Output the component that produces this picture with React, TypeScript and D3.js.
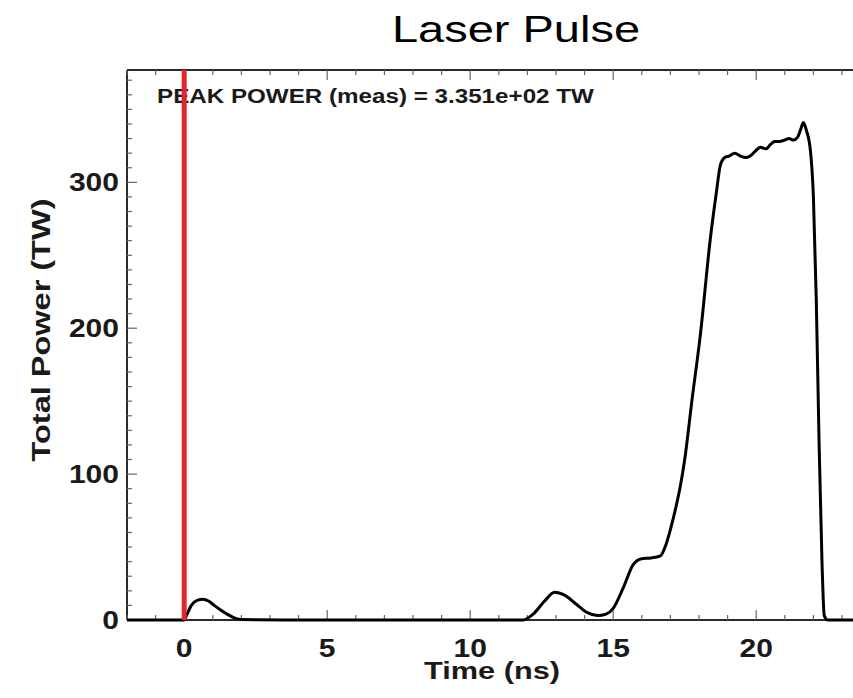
import React from "react";
import * as d3 from "d3";

// pulse shape
const timeNs = [
  -2, 0, 0.1, 0.25, 0.45, 0.65, 0.85, 1.05, 1.3, 1.5, 1.75, 2.0, 4, 8, 11.85,
  12.2, 12.6, 12.95, 13.3, 13.7, 14.1, 14.45, 14.75, 15.0, 15.35, 15.7, 16.0,
  16.3, 16.65, 16.85, 17.0, 17.2, 17.35, 17.5, 17.75, 18.05, 18.4, 18.6, 18.75,
  18.9, 19.05, 19.25, 19.45, 19.65, 19.85, 20.0, 20.15, 20.35, 20.5, 20.65,
  20.8, 21.0, 21.15, 21.3, 21.45, 21.55, 21.65, 21.75, 21.9, 22.0, 22.1, 22.2,
  22.3, 22.38, 22.5, 25,
];
const powerTW = [
  0, 0, 4, 10, 13.5, 14.2, 13, 10, 6.5, 4, 1.5, 0.3, 0, 0, 0, 4, 13, 19, 17, 11,
  5, 3, 4, 8, 22, 38, 42, 42.5, 44, 52, 62, 78, 92, 110, 150, 196, 262, 292,
  312, 317, 318, 320, 318, 317, 319, 322, 324, 323, 326, 328, 328, 329, 330,
  329, 331, 336, 341, 336, 321, 290, 220, 120, 40, 3, 0, 0,
];
const xTicks = [0, 5, 10, 15, 20];
const yTicks = [0, 100, 200, 300];
const markerTime = 0;

const W = 853;
const H = 698;
const left = 127;
const top = 70;
const bottom = 620;

const font = "'Liberation Sans', Arial, Helvetica, sans-serif";

const STxt = ({ x, y, sx = 1.2, rot = 0, anchor = "start", size, weight = "bold", children }: any) => (
  <text
    transform={`translate(${x},${y}) rotate(${rot}) scale(${sx},1)`}
    textAnchor={anchor}
    fontFamily={font}
    fontSize={size}
    fontWeight={weight}
    fill="#1a1a1a"
  >
    {children}
  </text>
);

export default function App() {
  const x = d3.scaleLinear().domain([-2, 25]).range([left, left + 27 * 28.6]);
  const y = d3.scaleLinear().domain([0, 377]).range([bottom, top]);
  const right = x(25);

  const pts = timeNs.map((t, i) => [t, powerTW[i]] as [number, number]);
  const line = d3
    .line<[number, number]>()
    .x((d) => x(d[0]))
    .y((d) => y(d[1]))
    .curve(d3.curveMonotoneX);

  const xMinor = d3.range(-2, 26, 1);
  const yMinor = d3.range(0, 377, 10);

  return (
    <div style={{ position: "absolute", left: 0, top: 0 }}>
      <svg width={W} height={H} style={{ display: "block", background: "#fff" }}>
        <text x={516} y={42} textAnchor="middle" fontFamily={font} fontSize={36} textLength={248} lengthAdjust="spacingAndGlyphs">
          Laser Pulse
        </text>

        {/* frame */}
        <g stroke="#2a2a2a" strokeWidth={2} fill="none">
          <line x1={left} x2={right} y1={top} y2={top} />
          <line x1={left} x2={right} y1={bottom} y2={bottom} />
          <line x1={left} x2={left} y1={top} y2={bottom} />
          <line x1={right} x2={right} y1={top} y2={bottom} />
        </g>

        {/* ticks */}
        <g stroke="#666" strokeWidth={1.2}>
          {xMinor.map((t) => {
            const len = t % 5 === 0 ? 10 : 5;
            return (
              <g key={"xt" + t}>
                <line x1={x(t)} x2={x(t)} y1={bottom} y2={bottom - len} />
                <line x1={x(t)} x2={x(t)} y1={top} y2={top + len} />
              </g>
            );
          })}
          {yMinor.map((v) => {
            const len = v % 100 === 0 ? 10 : 5;
            return <line key={"yt" + v} x1={left} x2={left + len} y1={y(v)} y2={y(v)} />;
          })}
        </g>

        {xTicks.map((t) => (
          <STxt key={"xl" + t} x={x(t)} y={657} anchor="middle" size={25}>
            {t}
          </STxt>
        ))}
        {yTicks.map((v) => (
          <STxt key={"yl" + v} x={119} y={y(v) + 9} anchor="end" size={25}>
            {v}
          </STxt>
        ))}

        <STxt x={492} y={679} anchor="middle" size={24} sx={1.28}>
          Time (ns)
        </STxt>
        <STxt x={50} y={330} rot={-90} anchor="middle" size={25} sx={1.3}>
          Total Power (TW)
        </STxt>

        <STxt x={157} y={103} size={20} sx={1.21}>
          PEAK POWER (meas) =  3.351e+02 TW
        </STxt>

        <path d={line(pts) || ""} fill="none" stroke="#000" strokeWidth={3} strokeLinejoin="round" />

        <line x1={x(markerTime)} x2={x(markerTime)} y1={top} y2={bottom} stroke="#e3262b" strokeWidth={5} />
      </svg>
    </div>
  );
}
